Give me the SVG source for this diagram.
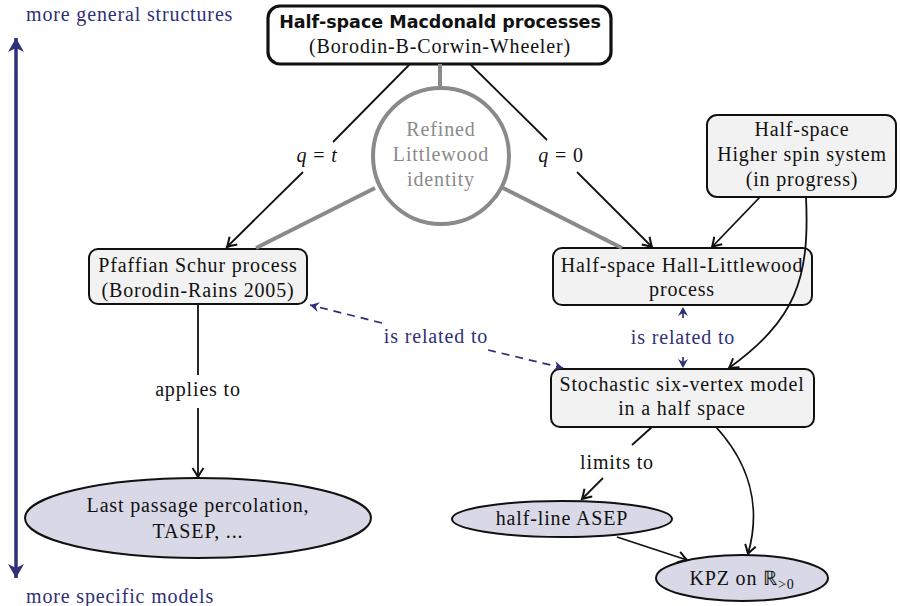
<svg xmlns="http://www.w3.org/2000/svg" width="900" height="606" viewBox="0 0 900 606">
<defs>
<style>
.t{font-family:"Liberation Serif","Times New Roman",serif;font-size:20px;letter-spacing:0.85px;fill:#111;text-anchor:middle}
.b{fill:#2e3077}
.g{fill:#8a8a8a}
.hd{font-family:"DejaVu Sans","Liberation Sans",sans-serif;font-weight:bold;font-size:17.5px;fill:#111;text-anchor:middle}
.box{fill:#f2f2f2;stroke:#111;stroke-width:2}
.ell{fill:#d8d8e6;stroke:#111;stroke-width:2}
.ln{fill:none;stroke:#111;stroke-width:1.8}
.gl{fill:none;stroke:#8a8a8a;stroke-width:4}
.dl{fill:none;stroke:#2e3077;stroke-width:1.7;stroke-dasharray:8 6}
</style>
<marker id="ah" markerUnits="userSpaceOnUse" markerWidth="22" markerHeight="22" viewBox="-11 -11 22 22" refX="0" refY="0" orient="auto">
<path d="M-9,-5.5 Q-2.5,-1.2 0,0 Q-2.5,1.2 -9,5.5" fill="none" stroke="#111" stroke-width="2"/>
</marker>
<marker id="bh" markerUnits="userSpaceOnUse" markerWidth="20" markerHeight="20" viewBox="-10 -10 20 20" refX="0" refY="0" orient="auto">
<path d="M0,0 L-9,-5 L-6,0 L-9,5 Z" fill="#2e3077"/>
</marker>
<marker id="bb" markerUnits="userSpaceOnUse" markerWidth="30" markerHeight="30" viewBox="-15 -15 30 30" refX="0" refY="0" orient="auto-start-reverse">
<path d="M0,0 L-14,-8 L-10,0 L-14,8 Z" fill="#2e3077"/>
</marker>
</defs>

<g id="scale">
<line x1="16" y1="38" x2="16" y2="578" stroke="#2e3077" stroke-width="3.5" marker-start="url(#bb)" marker-end="url(#bb)"/>
<text class="t b" x="26" y="21" style="text-anchor:start">more general structures</text>
<text class="t b" x="26" y="603" style="text-anchor:start">more specific models</text>
</g>

<g id="macdonald">
<rect x="268" y="6" width="343" height="58" rx="12" fill="#fff" stroke="#111" stroke-width="3.2"/>
<text class="hd" x="440" y="28">Half-space Macdonald processes</text>
<text class="t" x="440" y="53">(Borodin-B-Corwin-Wheeler)</text>
</g>

<g id="littlewood">
<circle cx="441" cy="156" r="68" fill="#fff" stroke="#8a8a8a" stroke-width="4"/>
<text class="t g" x="441" y="136">Refined</text>
<text class="t g" x="441" y="161">Littlewood</text>
<text class="t g" x="441" y="186">identity</text>
</g>

<g id="pfaffian">
<rect class="box" x="89" y="249" width="218" height="55" rx="9"/>
<text class="t" x="198" y="272">Pfaffian Schur process</text>
<text class="t" x="198" y="297">(Borodin-Rains 2005)</text>
</g>

<g id="hall">
<rect class="box" x="553" y="248" width="259" height="57" rx="9"/>
<text class="t" x="682" y="272">Half-space Hall-Littlewood</text>
<text class="t" x="682" y="296">process</text>
</g>

<g id="higherspin">
<rect class="box" x="707" y="115" width="189" height="82" rx="10"/>
<text class="t" x="802" y="136">Half-space</text>
<text class="t" x="802" y="161">Higher spin system</text>
<text class="t" x="802" y="186">(in progress)</text>
</g>

<g id="sixvertex">
<rect class="box" x="551" y="369" width="263" height="58" rx="9"/>
<text class="t" x="682" y="391">Stochastic six-vertex model</text>
<text class="t" x="682" y="415">in a half space</text>
</g>

<g id="lpp">
<ellipse class="ell" cx="198" cy="518" rx="173" ry="40"/>
<text class="t" x="198" y="512">Last passage percolation,</text>
<text class="t" x="198" y="538">TASEP, ...</text>
</g>

<g id="asep">
<ellipse class="ell" cx="562" cy="519" rx="110" ry="18"/>
<text class="t" x="562" y="525">half-line ASEP</text>
</g>

<g id="kpz">
<ellipse class="ell" cx="742" cy="578" rx="86" ry="23"/>
<text class="t" x="742" y="585">KPZ on ℝ<tspan font-size="14" dy="4" fill="#111">&gt;0</tspan></text>
</g>

<g id="connectors">
<line class="gl" x1="440" y1="64" x2="440" y2="87"/>
<line class="gl" x1="375" y1="188" x2="256" y2="248"/>
<line class="gl" x1="503" y1="188" x2="622" y2="248"/>
<line class="ln" x1="410" y1="64" x2="333" y2="142"/>
<line class="ln" x1="303" y1="172" x2="227" y2="247" marker-end="url(#ah)"/>
<text class="t" x="317" y="162"><tspan font-style="italic">q</tspan> = <tspan font-style="italic">t</tspan></text>
<line class="ln" x1="470" y1="64" x2="547" y2="140"/>
<line class="ln" x1="577" y1="172" x2="652" y2="247" marker-end="url(#ah)"/>
<text class="t" x="561" y="162"><tspan font-style="italic">q</tspan> = 0</text>
<line class="ln" x1="760" y1="197" x2="712" y2="247" marker-end="url(#ah)"/>
<path class="ln" d="M806,197 C810,280 795,320 729,368" marker-end="url(#ah)"/>
<line class="ln" x1="198" y1="304" x2="198" y2="375"/>
<line class="ln" x1="198" y1="408" x2="198" y2="477" marker-end="url(#ah)"/>
<text class="t" x="198" y="396">applies to</text>
<line class="dl" x1="382" y1="323" x2="310" y2="305" marker-end="url(#bh)"/>
<line class="dl" x1="488" y1="350" x2="563" y2="368" marker-end="url(#bh)"/>
<text class="t b" x="436" y="343">is related to</text>
<line class="dl" x1="683" y1="318" x2="683" y2="307" marker-end="url(#bh)"/>
<line class="dl" x1="683" y1="357" x2="683" y2="368" marker-end="url(#bh)"/>
<text class="t b" x="683" y="344">is related to</text>
<line class="ln" x1="652" y1="427" x2="632" y2="445"/>
<line class="ln" x1="603" y1="478" x2="582" y2="499" marker-end="url(#ah)"/>
<text class="t" x="617" y="469">limits to</text>
<path class="ln" d="M716,427 C748,462 762,505 748,554" marker-end="url(#ah)"/>
<line class="ln" x1="617" y1="537" x2="687" y2="560" marker-end="url(#ah)"/>
</g>
</svg>
